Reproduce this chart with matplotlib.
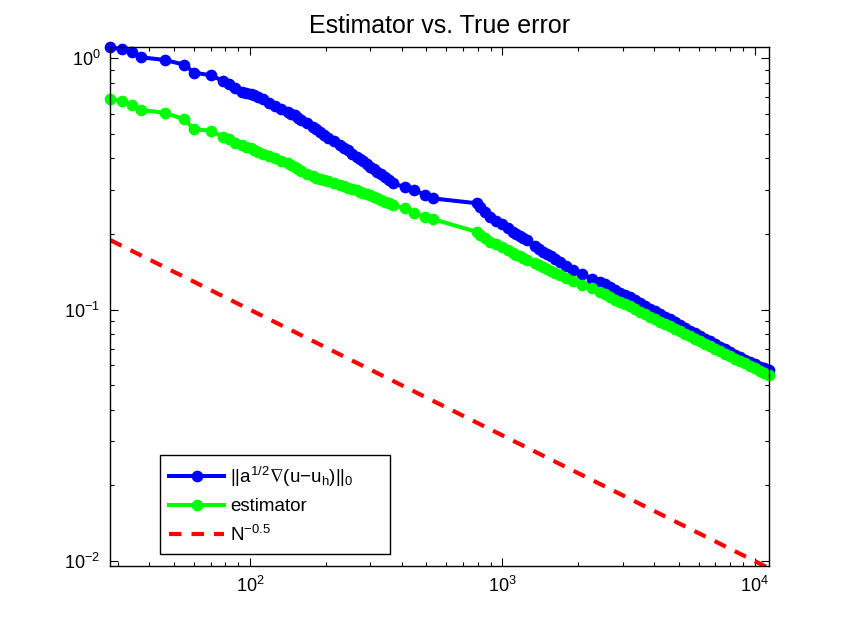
import numpy as np
import matplotlib
matplotlib.use('Agg')
import matplotlib.pyplot as plt

# =============================================================================
# Data (number of unknowns N, error, estimator)
# =============================================================================

N = [28, 31, 34, 37, 46, 55, 60, 70, 78, 83, 87, 93, 96.4, 101, 103.7, 108,
     113, 119, 126, 133, 141, 146, 151, 155, 160, 168, 178, 183.5, 189, 196.5,
     204, 215, 227, 236, 245, 254, 265, 273, 280, 290, 299, 309, 318, 330,
     343, 356, 370, 412, 447, 494, 533, 792, 816, 854, 894, 944, 997, 1053,
     1106, 1138, 1175, 1208, 1250, 1348, 1398, 1454, 1504, 1560, 1625, 1693,
     1789, 1911, 2064, 2262, 2439, 2553, 2673, 2797, 2928, 3064, 3208, 3357,
     3515, 3678, 3849, 4029, 4217, 4414, 4621, 4836, 5062, 5298, 5546, 5804,
     6075, 6359, 6655, 6966, 7293, 7632, 7988, 8361, 8752, 9160, 9590, 10036,
     10505, 10894, 11400]

err = [1.106, 1.086, 1.062, 1.009, 0.985, 0.943, 0.877, 0.856, 0.814, 0.790,
       0.765, 0.736, 0.728, 0.721, 0.712, 0.703, 0.686, 0.664, 0.646, 0.631,
       0.611, 0.603, 0.595, 0.581, 0.568, 0.553, 0.534, 0.521, 0.509, 0.495,
       0.481, 0.467, 0.452, 0.441, 0.430, 0.418, 0.406, 0.397, 0.389, 0.380,
       0.371, 0.362, 0.354, 0.345, 0.336, 0.327, 0.318, 0.307, 0.299, 0.286,
       0.277, 0.265, 0.256, 0.245, 0.234, 0.226, 0.219, 0.211, 0.204, 0.200,
       0.196, 0.1925, 0.189, 0.179, 0.1745, 0.170, 0.1665, 0.163, 0.159, 0.155,
       0.149, 0.144, 0.139, 0.133, 0.129, 0.126, 0.123, 0.120, 0.117, 0.1145,
       0.112, 0.109, 0.106, 0.1035, 0.101, 0.0985, 0.0961, 0.0937, 0.0914,
       0.0891, 0.0869, 0.0847, 0.0826, 0.0805, 0.0785, 0.0767, 0.0750, 0.0731,
       0.0713, 0.0695, 0.0678, 0.0663, 0.0648, 0.0633, 0.0619, 0.0606, 0.0594,
       0.0584, 0.0575]

est = [0.687, 0.678, 0.652, 0.623, 0.607, 0.572, 0.522, 0.515, 0.488, 0.477,
       0.462, 0.452, 0.445, 0.439, 0.432, 0.425, 0.418, 0.409, 0.400, 0.392,
       0.382, 0.376, 0.371, 0.363, 0.356, 0.348, 0.339, 0.335, 0.332, 0.329,
       0.326, 0.319, 0.313, 0.309, 0.306, 0.302, 0.299, 0.295, 0.292, 0.288,
       0.285, 0.281, 0.277, 0.273, 0.269, 0.265, 0.261, 0.253, 0.243, 0.234,
       0.229, 0.204, 0.199, 0.193, 0.186, 0.182, 0.177, 0.172, 0.168, 0.1655,
       0.163, 0.1605, 0.158, 0.153, 0.1505, 0.148, 0.1455, 0.143, 0.140, 0.137,
       0.134, 0.130, 0.125, 0.122, 0.118, 0.115, 0.112, 0.1095, 0.107, 0.105,
       0.103, 0.1005, 0.0981, 0.0960, 0.0939, 0.0918, 0.0897, 0.0877, 0.0857,
       0.0838, 0.0819, 0.0801, 0.0783, 0.0766, 0.0749, 0.0732, 0.0716, 0.0700,
       0.0685, 0.0669, 0.0654, 0.0639, 0.0625, 0.0611, 0.0598, 0.0585, 0.0572,
       0.0560, 0.0550]

rate = -0.5
labels = [r'||a$^{1/2}\nabla$(u$-$u$_h$)||$_0$', 'estimator', 'N$^{-0.5}$']

# =============================================================================

plt.rcParams['font.family'] = ['Liberation Sans', 'DejaVu Sans']
plt.rcParams['mathtext.fontset'] = 'custom'
plt.rcParams['mathtext.rm'] = 'Liberation Sans'
plt.rcParams['mathtext.it'] = 'Liberation Sans:italic'
plt.rcParams['mathtext.default'] = 'regular'

N = np.array(N, dtype=float)

fig = plt.figure(figsize=(8.5, 6.39), dpi=100)
ax = fig.add_axes([0.1294, 0.1142, 0.7753, 0.8118])

ax.loglog(N, err, '-o', color='#0000ff', lw=2.9, ms=7.4, label=labels[0],
          clip_on=False)
ax.loglog(N, est, '-o', color='#00ff00', lw=2.9, ms=7.4, label=labels[1],
          clip_on=False)
ax.loglog(N, N**rate, '--', color='#ff0000', lw=3, dashes=(3.0, 2.4),
          label=labels[2])

ax.set_xlim(27.9, 11405)
ax.set_ylim(0.00955, 1.106)

ax.tick_params(which='both', direction='in', top=True, right=True,
               labelsize=13, pad=7, width=0.8)
ax.tick_params(which='major', length=6)
ax.tick_params(which='minor', length=3)
for s in ax.spines.values():
    s.set_linewidth(1.0)

ax.set_title('Estimator vs. True error', fontsize=18, pad=10)

leg = ax.legend(loc='lower left', bbox_to_anchor=(0.0759, 0.0231, 0.349, 0.3),
                mode='expand', borderaxespad=0, fontsize=13.5, numpoints=1,
                handlelength=2.9, handletextpad=0.35, fancybox=False,
                framealpha=1, edgecolor='black', labelspacing=0.5,
                borderpad=0.5)
leg.get_frame().set_linewidth(1.0)

plt.savefig('out.png', dpi=100)
